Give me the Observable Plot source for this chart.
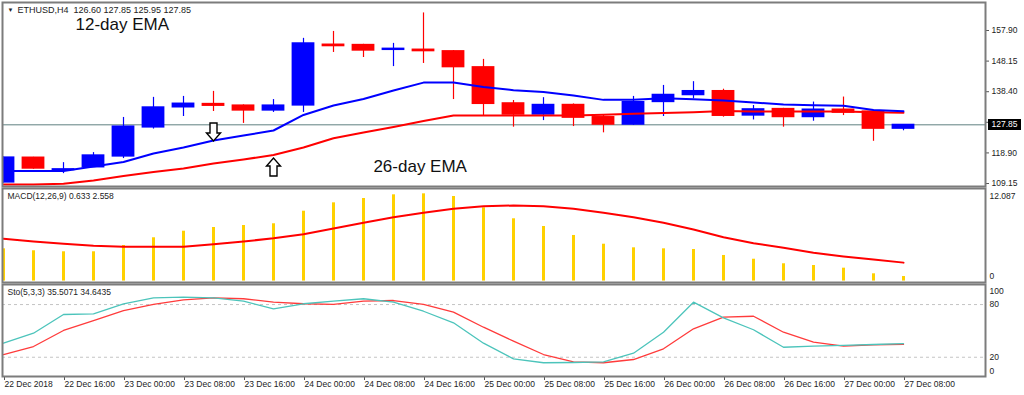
<!DOCTYPE html>
<html><head><meta charset="utf-8">
<script src="https://cdn.jsdelivr.net/npm/d3@7"></script>
<script src="https://cdn.jsdelivr.net/npm/@observablehq/plot@0.6"></script>
<style>
html,body{margin:0;padding:0;background:#fff;}
#wrap{position:relative;width:1024px;height:395px;overflow:hidden;font-family:"Liberation Sans",Arial,sans-serif;}
#wrap > svg{position:absolute;left:0;}
#pricebox{position:absolute;left:988px;width:33px;height:11px;background:#000;color:#fff;font-size:8.5px;line-height:11px;text-align:center;}
</style></head><body><div id="wrap"></div>
<script>
// ---- data ----
const timeLabels = ["22 Dec 2018","22 Dec 16:00","23 Dec 00:00","23 Dec 08:00","23 Dec 16:00","24 Dec 00:00","24 Dec 08:00","24 Dec 16:00","25 Dec 00:00","25 Dec 08:00","25 Dec 16:00","26 Dec 00:00","26 Dec 08:00","26 Dec 16:00","27 Dec 00:00","27 Dec 08:00"];
const open  = [109.47,117.4,113.4,114.3,117.75,127.0,133.4,134.5,134.0,132.4,134.0,153.4,153.3,151.7,151.8,151.3,146.2,134.7,131.1,134.2,130.3,127.9,135.1,137.3,138.6,130.8,132.9,130.3,132.7,132.1,126.60];
const high  = [117.6,117.5,115.8,119.0,130.2,136.6,136.9,138.5,134.2,135.9,155.4,157.6,153.5,153.8,163.5,151.5,148.7,135.6,136.5,134.5,131.0,136.9,140.4,141.6,139.2,134.0,133.1,135.1,136.7,132.3,127.85];
const low   = [109.3,113.7,112.3,114.3,117.1,126.5,130.5,132.1,128.3,131.8,131.8,150.9,149.3,146.4,147.4,135.9,130.8,127.1,129.2,127.3,125.3,127.7,130.5,136.1,130.3,129.4,127.1,129.0,130.8,122.6,125.95];
const close = [117.44,113.9,113.7,118.1,127.3,133.4,134.6,133.9,132.4,134.0,153.8,152.9,151.5,152.1,151.3,146.2,134.5,131.1,134.2,130.1,127.9,135.1,137.4,138.6,130.7,132.8,130.3,132.7,131.7,126.6,127.85];
const ema12 = [113.14,113.14,113.14,114.57,116.0,118.71,120.62,122.85,124.45,126.04,131.0,134.0,136.1,138.8,141.3,141.3,139.9,138.9,138.3,137.2,135.8,135.8,136.3,136.0,135.6,135.0,134.3,134.1,133.9,132.6,132.2];
const ema26 = [108.84,108.84,109.06,110.11,111.54,112.82,113.93,115.53,116.8,118.23,120.62,123.59,125.4,127.16,129.07,130.82,130.82,130.82,130.82,130.82,131.04,131.36,131.62,131.87,132.25,132.09,132.09,132.09,132.09,131.87,131.68];
const macdMain   = [4.47,4.20,4.06,4.06,4.93,6.00,6.91,7.42,7.70,7.94,9.68,10.84,11.44,11.95,12.087,11.72,10.15,8.63,7.56,6.32,5.11,4.61,4.47,4.38,3.55,3.03,2.40,2.16,1.79,1.01,0.633];
const macdSignal = [5.86,5.48,5.17,4.89,4.75,4.75,4.75,5.11,5.48,5.94,6.50,7.29,8.07,8.85,9.46,10.01,10.37,10.47,10.37,10.01,9.46,8.85,8.07,7.15,6.08,5.25,4.61,3.92,3.41,2.99,2.558];
const stochK = [36.0,47.4,68.7,69.5,80.9,87.7,88.4,87.7,83.8,75.2,80.9,83.8,86.6,82.7,72.4,59.2,36.0,18.2,13.7,14.0,14.8,24.6,48.5,82.7,64.9,51.3,31.4,32.6,33.4,34.5,35.5071];
const stochD = [23.1,32.2,50.5,61.8,73.2,80.1,85.4,87.7,86.6,82.7,80.9,80.1,83.8,84.6,80.1,71.3,54.2,38.3,23.1,14.8,13.7,17.4,29.6,52.4,65.6,66.7,48.5,37.1,32.6,34.2,34.6435];
const priceTicks = [109.15,118.90,128.65,138.40,148.15,157.90];
const stochLevels = [20,80];
const arrows = [{i:7, price:125.56, dir:"down"},{i:9, price:114.41, dir:"up"}];
const notes = [{i:2.4, price:159.65, text:"12-day EMA"},{i:12.33, price:114.57, text:"26-day EMA"}];
const priceTitle = "ETHUSD,H4  126.60 127.85 125.95 127.85";
const macdTitle = "MACD(12,26,9) 0.633 2.558";
const stochTitle = "Sto(5,3,3) 35.5071 34.6435";

// ---- build ----
const idx = d3.range(open.length);
const candles = idx.map(i => ({i, open: open[i], high: high[i], low: low[i], close: close[i], up: close[i] >= open[i]}));
const xDomain = [-1/30, 982/30];
const FONT = '"Liberation Sans", Arial, sans-serif';
const frameColor = "#7c7c7c";
const col = d => d.up ? "#0000ff" : "#ff0000";

const arrowDown = {draw(ctx){ctx.moveTo(-3.5,-9);ctx.lineTo(3.5,-9);ctx.lineTo(3.5,1);ctx.lineTo(7,1);ctx.lineTo(0,9);ctx.lineTo(-7,1);ctx.lineTo(-3.5,1);ctx.closePath();}};
const arrowUp = {draw(ctx){ctx.moveTo(-3.5,9);ctx.lineTo(3.5,9);ctx.lineTo(3.5,-1);ctx.lineTo(7,-1);ctx.lineTo(0,-9);ctx.lineTo(-7,-1);ctx.lineTo(-3.5,-1);ctx.closePath();}};

const common = {width: 1024, marginLeft: 2, marginRight: 39, style: {fontFamily: FONT, background: "transparent", overflow: "visible"}};

const price = Plot.plot({
  ...common, height: 187, marginTop: 2, marginBottom: 1,
  x: {domain: xDomain, axis: null},
  y: {domain: [108.2, 166.82], axis: null},
  color: {type: "identity"},
  marks: [
    Plot.ruleY([close[close.length-1]], {stroke: "#5f8080", strokeWidth: 1}),
    Plot.ruleX(candles, {x: "i", y1: "low", y2: "high", stroke: col, strokeWidth: 1.2, clip: true}),
    Plot.rect(candles, {x1: d => d.i - 0.38, x2: d => d.i + 0.38, y1: d => Math.min(d.open, d.close), y2: d => Math.max(d.open, d.close), fill: col, insetTop: -0.6, insetBottom: -0.6, clip: true}),
    Plot.line(idx, {x: i => i, y: i => ema26[i], stroke: "#ff0000", strokeWidth: 2}),
    Plot.line(idx, {x: i => i, y: i => ema12[i], stroke: "#0000ff", strokeWidth: 2}),
    Plot.dot(arrows.filter(a => a.dir === "down"), {x: "i", y: "price", symbol: arrowDown, r: 6, fill: "white", stroke: "black", strokeWidth: 1.4}),
    Plot.dot(arrows.filter(a => a.dir === "up"), {x: "i", y: "price", symbol: arrowUp, r: 6, fill: "white", stroke: "black", strokeWidth: 1.4}),
    Plot.text(notes, {x: "i", y: "price", text: "text", textAnchor: "start", fontSize: 17, fill: "#111"}),
    Plot.text(["▼"], {frameAnchor: "top-left", dx: 5, dy: 5, fontSize: 6, fill: "#222"}),
    Plot.text([priceTitle], {frameAnchor: "top-left", dx: 15, dy: 4, textAnchor: "start", lineAnchor: "top", fontSize: 9, fill: "#222"}),
    Plot.axisY(priceTicks, {anchor: "right", tickSize: 3, tickPadding: 3, tickFormat: d => d.toFixed(2), fontSize: 8.5, fill: "#222", stroke: "#555"}),
    Plot.frame({stroke: frameColor, strokeWidth: 2})
  ]
});

const macd = Plot.plot({
  ...common, height: 96, marginTop: 1, marginBottom: 1,
  x: {domain: xDomain, axis: null},
  y: {domain: [-0.194, 12.825], axis: null},
  marks: [
    Plot.ruleX(idx, {x: i => i, y1: 0, y2: i => macdMain[i], stroke: "#ffd000", strokeWidth: 3}),
    Plot.line(idx, {x: i => i, y: i => macdSignal[i], stroke: "#ff0000", strokeWidth: 2}),
    Plot.text([macdTitle], {frameAnchor: "top-left", dx: 5, dy: 4, textAnchor: "start", lineAnchor: "top", fontSize: 8.5, fill: "#222"}),
    Plot.axisY([12.087], {anchor: "right", tickSize: 0, tickPadding: 4, dy: 2, tickFormat: d => d.toFixed(3), fontSize: 8.5, fill: "#222"}),
    Plot.axisY([0], {anchor: "right", tickSize: 0, tickPadding: 4, dy: -4.5, tickFormat: d => String(d), fontSize: 8.5, fill: "#222"}),
    Plot.frame({stroke: frameColor, strokeWidth: 2})
  ]
});

const stoch = Plot.plot({
  ...common, height: 112, marginTop: 1, marginBottom: 19,
  x: {domain: xDomain, axis: null},
  y: {domain: [-1.94, 102.85], axis: null},
  marks: [
    Plot.ruleY(stochLevels, {stroke: "#c4c4c4", strokeDasharray: "3,3", strokeWidth: 1}),
    Plot.line(idx, {x: i => i, y: i => stochD[i], stroke: "#ff3b3b", strokeWidth: 1.3}),
    Plot.line(idx, {x: i => i, y: i => stochK[i], stroke: "#4cc4bb", strokeWidth: 1.3}),
    Plot.text([stochTitle], {frameAnchor: "top-left", dx: 5, dy: 4, textAnchor: "start", lineAnchor: "top", fontSize: 8.5, fill: "#222"}),
    Plot.axisY([100], {anchor: "right", tickSize: 0, tickPadding: 4, dy: 4.5, fontSize: 8.5, fill: "#222"}),
    Plot.axisY([80, 20], {anchor: "right", tickSize: 0, tickPadding: 4, fontSize: 8.5, fill: "#222"}),
    Plot.axisY([0], {anchor: "right", tickSize: 0, tickPadding: 4, dy: -4, fontSize: 8.5, fill: "#222"}),
    Plot.axisX(d3.range(0, open.length, 2), {anchor: "bottom", tickSize: 4, tickPadding: 0, tickFormat: i => timeLabels[i / 2], textAnchor: "start", dx: 1, fontSize: 8.5, fill: "#222", stroke: "#555"}),
    Plot.frame({stroke: frameColor, strokeWidth: 2})
  ]
});

const wrap = document.getElementById("wrap");
price.style.top = "0px";
macd.style.top = "187px";
stoch.style.top = "283px";
wrap.append(price, macd, stoch);

const lastClose = close[close.length - 1];
const box = document.createElement("div");
box.id = "pricebox";
box.textContent = lastClose.toFixed(2);
box.style.top = (price.scale("y").apply(lastClose) - 5.5) + "px";
wrap.append(box);
</script></body></html>
